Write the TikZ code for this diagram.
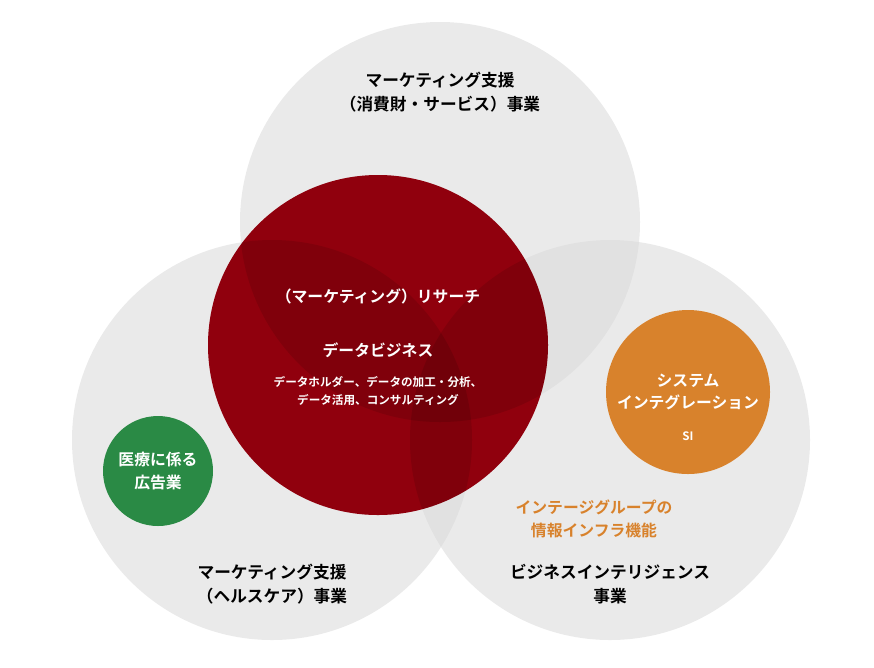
\documentclass[tikz,border=0pt]{standalone}
\usepackage{fontspec}
\setmainfont{Noto Sans CJK JP}[BoldFont={Noto Sans CJK JP Bold}]
\definecolor{bizgray}{HTML}{D9D9D9}
\definecolor{bizred}{HTML}{A2000F}
\definecolor{bizorange}{HTML}{D8822C}
\definecolor{bizgreen}{HTML}{2A8A45}
\tikzset{
  bizcircle/.style={fill=bizgray,fill opacity=0.55,draw=none},
  shade/.style={fill=black,fill opacity=0.11},
  bizlabel/.style={font=\bfseries\fontsize{9.5}{14}\selectfont,align=center,text=black},
  whitelabel/.style={font=\bfseries\fontsize{9}{13}\selectfont,align=center,text=white},
  smalllabel/.style={font=\bfseries\fontsize{6.6}{10}\selectfont,align=center,text=white}
}
\begin{document}
\begin{tikzpicture}[x=0.02cm,y=-0.02cm]
\useasboundingbox (0,0) rectangle (874,667);
% three business circles
\fill [bizcircle] (440,222) circle (200);
\fill [bizcircle] (272,440) circle (200);
\fill [bizcircle] (610,440) circle (200);
% core research circle, darkened where the business circles overlap it
\fill [bizred] (378,345) circle (170);
\begin{scope}
  \clip (378,345) circle (170);
  \fill [shade] (440,222) circle (200);
  \fill [shade] (272,440) circle (200);
  \fill [shade] (610,440) circle (200);
\end{scope}
\fill [bizorange] (688,392) circle (82);
\fill [bizgreen] (158,471) circle (55);
% labels
\node [bizlabel] (consumer) at (440,92) {マーケティング支援\\（消費財・サービス）事業};
\node [bizlabel] (health) at (272,584) {マーケティング支援\\（ヘルスケア）事業};
\node [bizlabel] (bi) at (610,584) {ビジネスインテリジェンス\\事業};
\node [whitelabel] (research) at (378,296) {（マーケティング）リサーチ};
\node [whitelabel] (data) at (378,350) {データビジネス};
\node [smalllabel] (datadesc) at (378,391) {データホルダー、データの加工・分析、\\データ活用、コンサルティング};
\node [whitelabel] (si) at (688,392) {システム\\インテグレーション};
\node [smalllabel] (siabbr) at (688,436) {SI};
\node [whitelabel] (ad) at (158,471) {医療に係る\\広告業};
\node [font=\bfseries\fontsize{9}{13}\selectfont,align=center,text=bizorange] (infra) at (594,519) {インテージグループの\\情報インフラ機能};
\end{tikzpicture}
\end{document}
